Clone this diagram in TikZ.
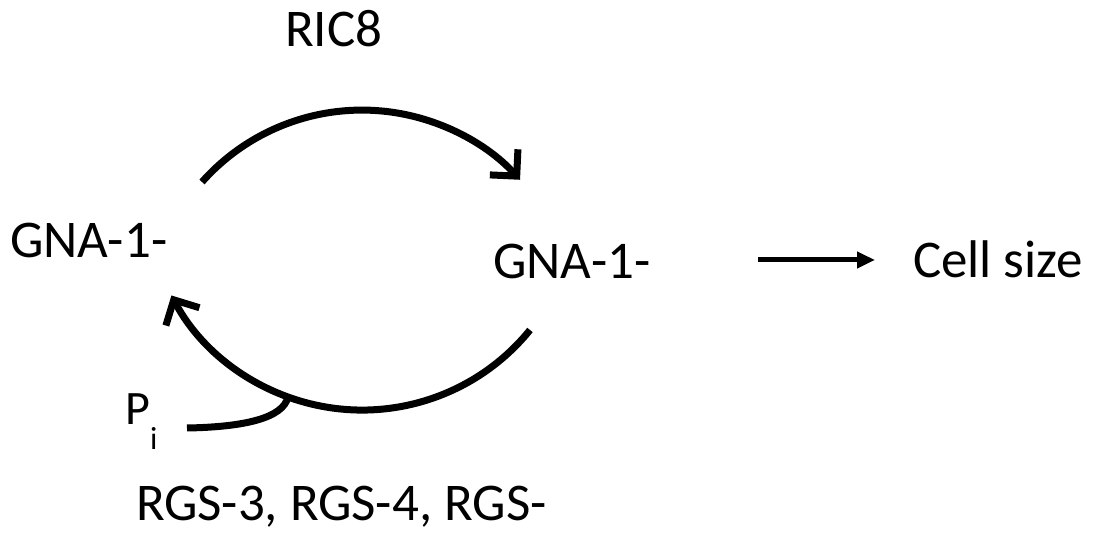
\documentclass[tikz,border=0pt]{standalone}
\usepackage{fontspec}
\setmainfont{Carlito}
\usetikzlibrary{arrows.meta}
\tikzset{
  lbl/.style={inner sep=0pt, outer sep=0pt, anchor=base west, font=\fontsize{53}{60}\selectfont},
  cyc/.style={line width=7pt, -{Straight Barb[length=19pt,width=38pt]}},
  eff/.style={line width=5pt, -{Triangle[length=18pt,width=16pt]}},
}
\begin{document}
\begin{tikzpicture}[x=1pt,y=1pt]
\useasboundingbox (0,0) rectangle (1093,536);
\node[lbl] (ric) at (285,489) {RIC8};
\node[lbl] (gnaL) at (10,278) {GNA-1-};
\node[lbl] (gnaR) at (493,257) {GNA-1-};
\node[lbl] (cell) at (913,258) {Cell size};
\node[lbl, font=\fontsize{48}{54}\selectfont] (P) at (125,111) {P};
\node[lbl, font=\fontsize{32}{38}\selectfont] (i) at (150,86) {i};
\node[lbl] (rgs) at (136,16) {RGS-3, RGS-4, RGS-};
% top arc (activation)
\coordinate (topS) at (202,354);
\draw[cyc] (topS) arc[start angle=138.4, end angle=42.4, radius=214];
% bottom arc (hydrolysis)
\coordinate (botS) at (530,206);
\draw[cyc] (botS) arc[start angle=-39, end angle=-152, radius=216];
% Pi release
\coordinate (pi1) at (187,108);
\coordinate (pi2) at (288,139);
\draw[line width=7pt] (pi1) .. controls (245,109) and (283,118) .. (pi2);
% effect arrow
\coordinate (e1) at (758,276);
\coordinate (e2) at (875,276);
\draw[eff] (e1) -- (e2);
\end{tikzpicture}
\end{document}
